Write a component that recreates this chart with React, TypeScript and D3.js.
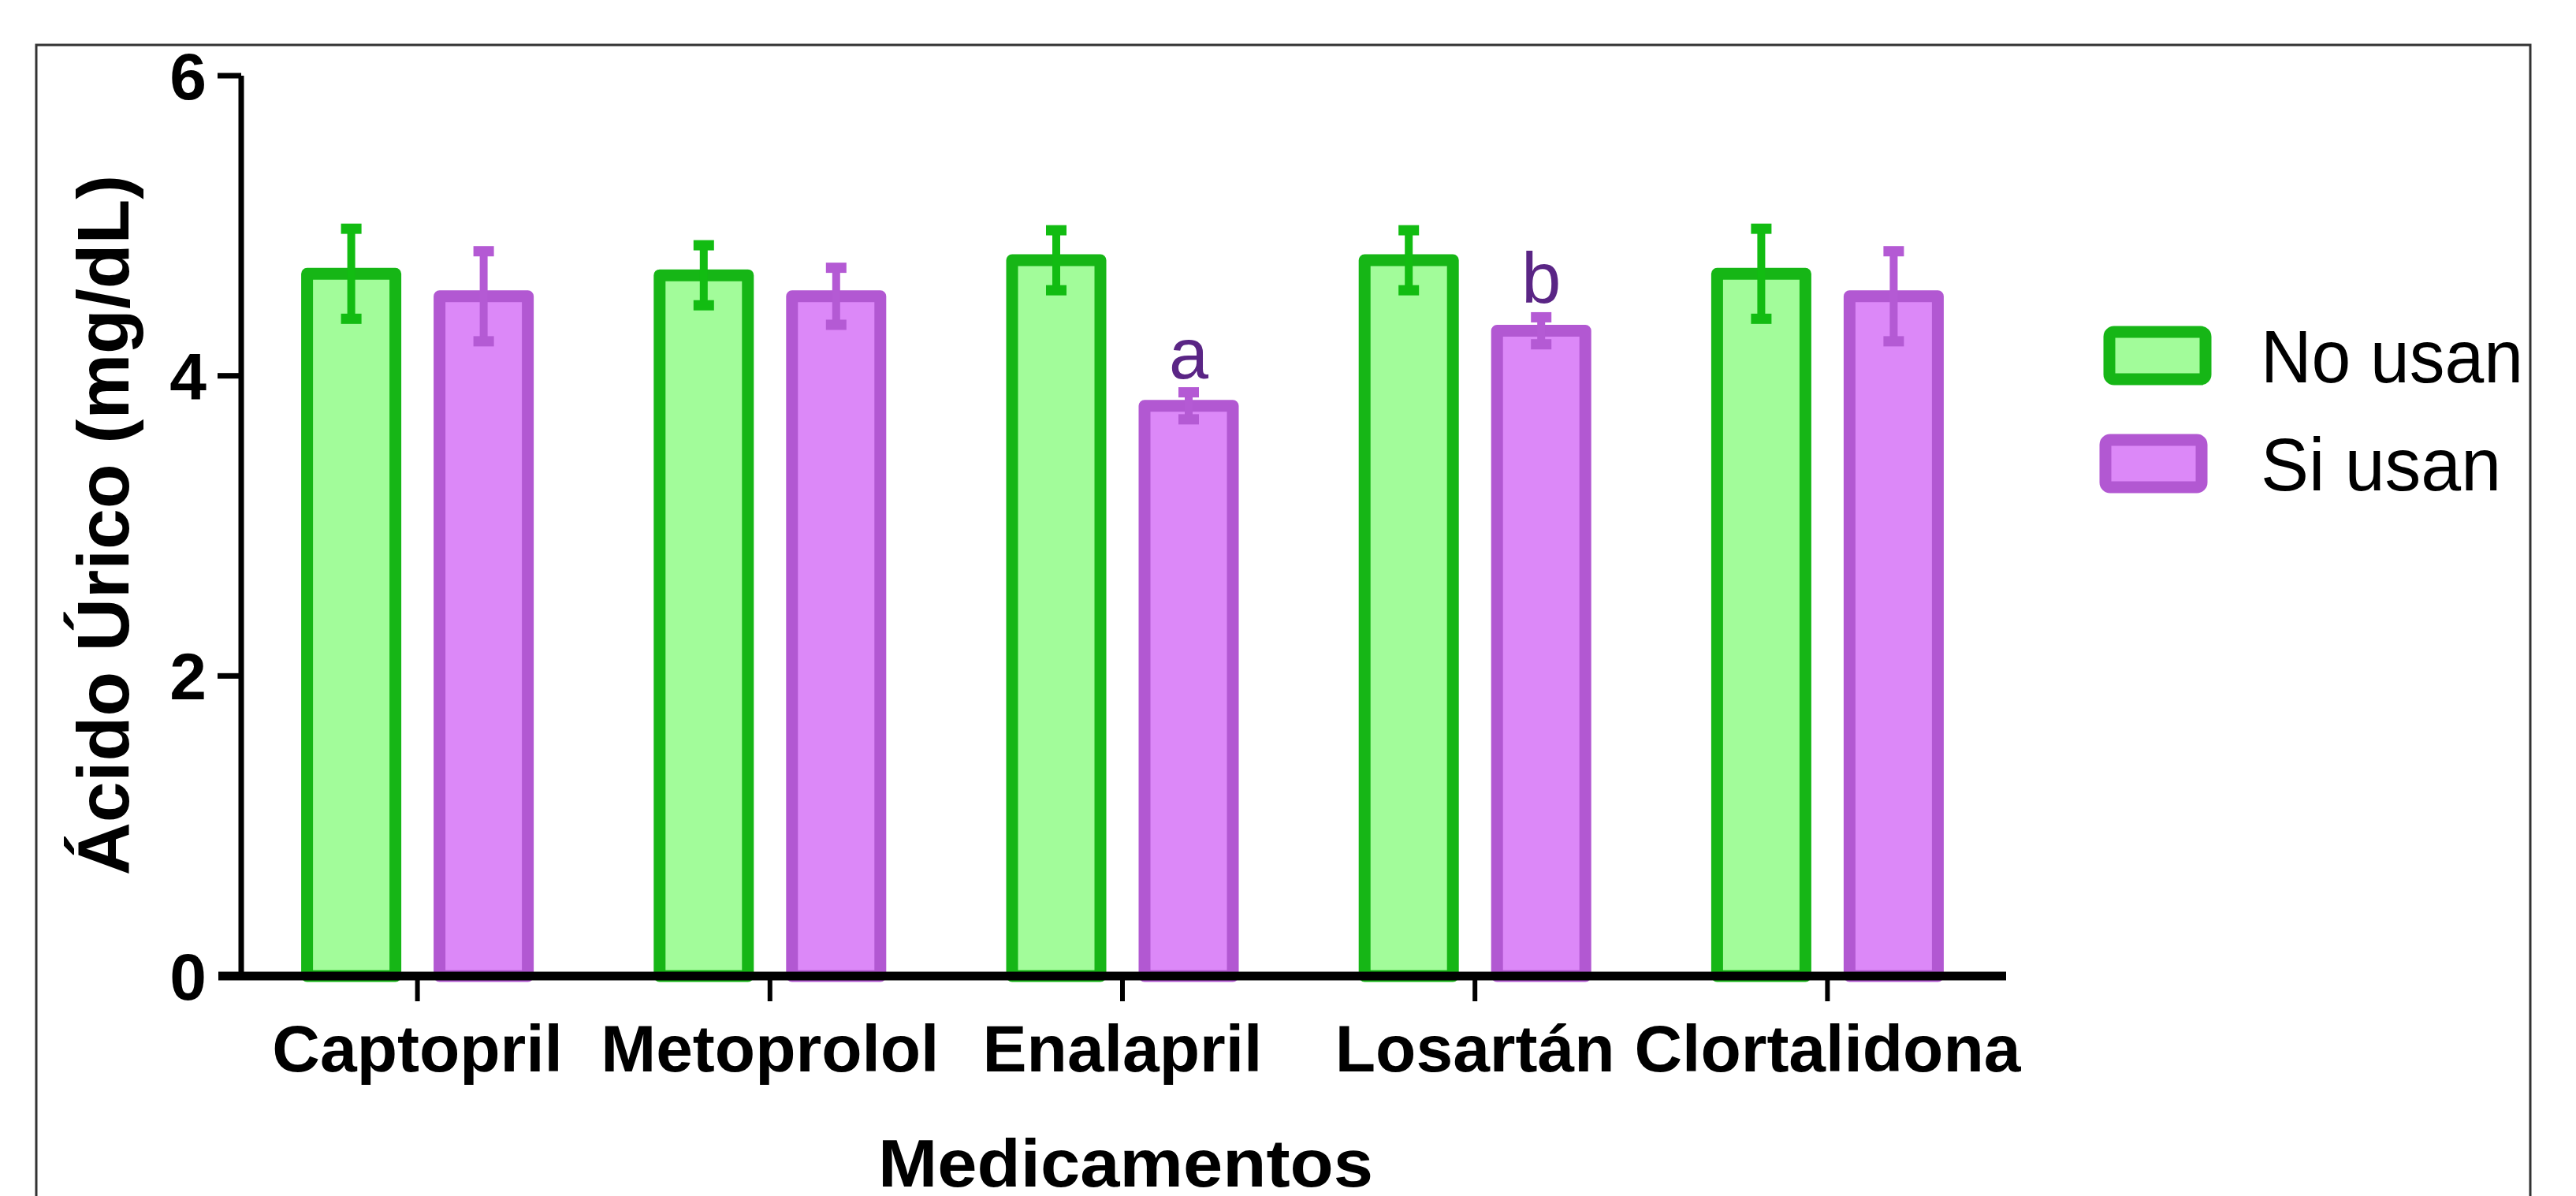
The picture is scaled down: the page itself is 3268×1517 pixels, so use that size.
import React from "react";
import * as d3 from "d3";

const categories = ["Captopril", "Metoprolol", "Enalapril", "Losartán", "Clortalidona"];
const seriesNames = ["No usan", "Si usan"];
const noUsanMean = [4.68, 4.67, 4.77, 4.77, 4.68];
const noUsanErr = [0.3, 0.2, 0.2, 0.2, 0.3];
const siUsanMean = [4.53, 4.53, 3.8, 4.3, 4.53];
const siUsanErr = [0.3, 0.19, 0.09, 0.09, 0.3];
const siUsanLetters = ["", "", "a", "b", ""];
const yTicks = [0, 2, 4, 6];

const W = 3268;
const H = 1517;
const FONT = "'Liberation Sans', Arial, Helvetica, sans-serif";

const colors = {
  strokes: ["#16b616", "#b258d2"],
  fills: ["#a2fc9a", "#dc88f8"],
  err: ["#12bc12", "#b45ad4"],
};

export default function App() {
  const x = d3.scaleBand<string>().domain(categories).range([306, 2542]).padding(0);
  const inner = d3.scaleBand<string>().domain(seriesNames).range([-168, 168]).padding(0);
  const y = d3.scaleLinear().domain([0, 6]).range([1238, 96]);
  const barW = 112;
  const barStroke = 15;

  const series = [
    { name: seriesNames[0], mean: noUsanMean, err: noUsanErr },
    { name: seriesNames[1], mean: siUsanMean, err: siUsanErr },
  ];

  const legendTextLen = [333, 305];

  return (
    <svg
      width={W}
      height={H}
      style={{ position: "absolute", left: 0, top: 0, background: "#fff" }}
      fontFamily={FONT}
    >
      <rect x={0} y={0} width={W} height={H} fill="#fff" />
      {/* frame */}
      <rect x={46} y={57} width={3164} height={1600} fill="none" stroke="#333" strokeWidth={3} />

      {/* bars */}
      {series.map((s, si) =>
        categories.map((c, ci) => {
          const cx = (x(c) as number) + x.bandwidth() / 2 + (inner(s.name) as number) + inner.bandwidth() / 2;
          const top = y(s.mean[ci]);
          return (
            <rect
              key={`b-${si}-${ci}`}
              x={cx - barW / 2}
              y={top}
              width={barW}
              height={y(0) - top}
              fill={colors.fills[si]}
              stroke={colors.strokes[si]}
              strokeWidth={barStroke}
              strokeLinejoin="round"
            />
          );
        })
      )}

      {/* error bars */}
      {series.map((s, si) =>
        categories.map((c, ci) => {
          const cx = (x(c) as number) + x.bandwidth() / 2 + (inner(s.name) as number) + inner.bandwidth() / 2;
          const hi = y(s.mean[ci] + s.err[ci]);
          const lo = y(s.mean[ci] - s.err[ci]);
          return (
            <g key={`e-${si}-${ci}`} stroke={colors.err[si]}>
              <line x1={cx} x2={cx} y1={hi} y2={lo} strokeWidth={10} />
              <line x1={cx - 13} x2={cx + 13} y1={hi} y2={hi} strokeWidth={13} />
              <line x1={cx - 13} x2={cx + 13} y1={lo} y2={lo} strokeWidth={13} />
            </g>
          );
        })
      )}

      {/* significance letters */}
      {categories.map((c, ci) => {
        if (!siUsanLetters[ci]) return null;
        const cx = (x(c) as number) + x.bandwidth() / 2 + (inner(seriesNames[1]) as number) + inner.bandwidth() / 2;
        const hi = y(siUsanMean[ci] + siUsanErr[ci]);
        return (
          <text key={`l-${ci}`} x={cx} y={hi - 18} textAnchor="middle" fontSize={90} fill="#5a2585">
            {siUsanLetters[ci]}
          </text>
        );
      })}

      {/* y axis */}
      <line x1={306} x2={306} y1={y(6)} y2={y(0)} stroke="#000" strokeWidth={7} />
      {yTicks.map((t) => (
        <g key={`yt-${t}`}>
          {t !== 0 && <line x1={276} x2={306} y1={y(t)} y2={y(t)} stroke="#000" strokeWidth={7} />}
          <text x={262} y={y(t) + 0.358 * 84} textAnchor="end" fontSize={84} fontWeight="bold" fill="#000">
            {t}
          </text>
        </g>
      ))}

      {/* x axis */}
      <line x1={277} x2={2545} y1={y(0)} y2={y(0)} stroke="#000" strokeWidth={11} />
      {categories.map((c) => {
        const cx = (x(c) as number) + x.bandwidth() / 2;
        return (
          <g key={`xt-${c}`}>
            <line x1={cx} x2={cx} y1={y(0)} y2={y(0) + 32} stroke="#000" strokeWidth={6} />
            <text x={cx} y={1359} textAnchor="middle" fontSize={84} fontWeight="bold" fill="#000">
              {c}
            </text>
          </g>
        );
      })}

      {/* axis titles */}
      <text
        x={1428}
        y={1505}
        textAnchor="middle"
        fontSize={86}
        fontWeight="bold"
        fill="#000"
        textLength={628}
        lengthAdjust="spacingAndGlyphs"
      >
        Medicamentos
      </text>
      <text
        transform={`translate(163, 666) rotate(-90)`}
        textAnchor="middle"
        fontSize={93}
        fontWeight="bold"
        fill="#000"
      >
        Ácido Úrico (mg/dL)
      </text>

      {/* legend */}
      {seriesNames.map((n, i) => {
        const cy = i === 0 ? 451 : 588;
        const bx = i === 0 ? 2676 : 2671;
        return (
          <g key={`lg-${n}`}>
            <rect
              x={bx}
              y={cy - 30}
              width={122}
              height={60}
              rx={6}
              fill={colors.fills[i]}
              stroke={colors.strokes[i]}
              strokeWidth={15}
              strokeLinejoin="round"
            />
            <text
              x={2868}
              y={cy + 0.358 * 94}
              fontSize={94}
              fill="#000"
              textLength={legendTextLen[i]}
              lengthAdjust="spacingAndGlyphs"
            >
              {n}
            </text>
          </g>
        );
      })}
    </svg>
  );
}
